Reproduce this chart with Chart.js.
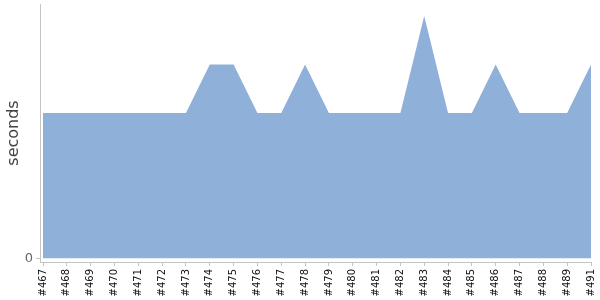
<!DOCTYPE html>
<html>
<head>
<meta charset="utf-8">
<script src="https://cdn.jsdelivr.net/npm/chart.js@4/dist/chart.umd.min.js"></script>
<style>
  html, body { margin: 0; padding: 0; background: #fff; }
  #wrap { width: 600px; height: 300px; position: relative; }
</style>
</head>
<body>
<div id="wrap"><canvas id="chart"></canvas></div>
<script>
// ビルド番号（#490 は欠番）
const builds = ['#467', '#468', '#469', '#470', '#471', '#472', '#473', '#474',
  '#475', '#476', '#477', '#478', '#479', '#480', '#481', '#482', '#483', '#484',
  '#485', '#486', '#487', '#488', '#489', '#491'];

// 所要時間（秒）
const durations = [3, 3, 3, 3, 3, 3, 3, 4, 4, 3, 3, 4, 3, 3, 3, 3, 5, 3, 3, 4, 3, 3, 3, 4];

const yTicks = [0];

const AXIS_COLOR = '#c4c4c4';

const points = durations.map((v, i) => ({ x: i, y: v }));

new Chart(document.getElementById('chart').getContext('2d'), {
  type: 'line',
  data: {
    datasets: [{
      data: points,
      fill: 'origin',
      backgroundColor: 'rgb(143, 176, 217)',
      borderWidth: 0,
      pointRadius: 0,
      tension: 0,
    }],
  },
  options: {
    responsive: true,
    maintainAspectRatio: false,
    animation: false,
    layout: { padding: { top: 4, right: 9, left: 0, bottom: 0 } },
    plugins: {
      legend: { display: false },
      tooltip: { enabled: false },
    },
    scales: {
      x: {
        type: 'linear',
        min: -0.126,
        max: builds.length - 1,
        afterBuildTicks: (scale) => {
          scale.ticks = builds.map((_, i) => ({ value: i }));
        },
        afterFit: (scale) => {
          scale.height = 38;
          scale.paddingLeft = 0;
          scale.paddingRight = 0;
        },
        grid: { drawOnChartArea: false, color: AXIS_COLOR, tickLength: 4 },
        border: { color: AXIS_COLOR },
        ticks: {
          autoSkip: false,
          minRotation: 90,
          maxRotation: 90,
          padding: 3,
          color: '#111',
          font: { family: 'DejaVu Sans', size: 10 },
          callback: (v) => builds[v],
        },
      },
      y: {
        min: -0.08,
        max: 5.25,
        afterBuildTicks: (scale) => {
          scale.ticks = yTicks.map((v) => ({ value: v }));
        },
        afterFit: (scale) => {
          scale.width = 40;
          scale.paddingTop = 0;
          scale.paddingBottom = 0;
        },
        grid: { drawOnChartArea: false, color: AXIS_COLOR, tickLength: 4 },
        border: { color: AXIS_COLOR },
        title: {
          display: true,
          text: 'seconds',
          color: '#444',
          font: { family: 'DejaVu Sans', size: 16 },
          padding: { top: 4, bottom: 0 },
        },
        ticks: {
          color: '#666',
          padding: 3,
          font: { family: 'DejaVu Sans', size: 13 },
        },
      },
    },
  },
});
</script>
</body>
</html>
